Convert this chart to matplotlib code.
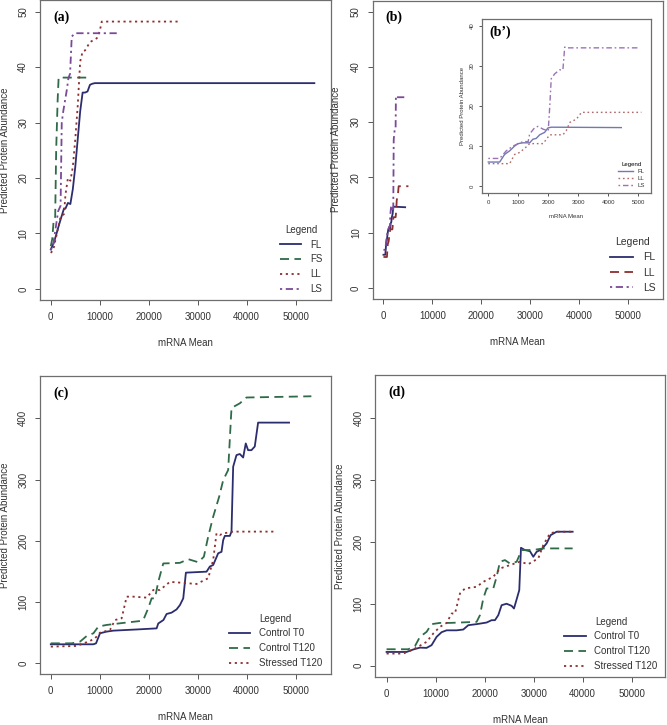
import matplotlib
matplotlib.use("Agg")
import matplotlib.pyplot as plt

plt.rcParams['font.family'] = ['Liberation Sans', 'DejaVu Sans']

# ---------------- data ----------------
# panel (a)
a_FL_x = [0, 700, 1500, 2000, 2700, 3000, 3500, 4000, 4500, 5000, 5500, 6000, 6500, 7000, 7500, 8000, 8500, 9000, 53800]
a_FL_y = [7.1, 8.5, 11, 12.5, 14.5, 14.5, 15.5, 15.3, 18, 22, 27, 32, 35.4, 35.4, 35.6, 36.8, 37, 37.1, 37.1]
a_FS_x = [0, 300, 600, 900, 1100, 1400, 1600, 7400]
a_FS_y = [7.7, 9, 12.5, 13, 25, 34, 38.1, 38.1]
a_LL_x = [0, 500, 1000, 1500, 2000, 2700, 3000, 3500, 4000, 4500, 5000, 5500, 6000, 6500, 7000, 8000, 9400, 10000, 10400, 26400]
a_LL_y = [6.5, 7, 9, 11, 13, 13.5, 17, 20, 19.5, 22, 27, 33, 41, 42.8, 43, 44.5, 45.2, 46.5, 48.2, 48.2]
a_LS_x = [0, 500, 1000, 1500, 2000, 2240, 2580, 3260, 3600, 3940, 4280, 4960, 13800]
a_LS_y = [7, 8, 11, 14, 15, 30, 32.2, 35.8, 38, 38.8, 45.5, 46.1, 46.1]

# panel (b) / (b')
b_FL_x = [0, 380, 545, 713, 880, 990, 1160, 1380, 1490, 1600, 1715, 1880, 1990, 2100, 4440]
b_FL_y = [6.0, 6.0, 7.9, 8.8, 10, 10.6, 10.8, 10.8, 11.7, 11.9, 12.8, 13.4, 14.5, 14.7, 14.6]
b_LL_x = [0, 713, 880, 1050, 1270, 1380, 1830, 1940, 2050, 2490, 2600, 2720, 2940, 3110, 5110]
b_LL_y = [5.6, 5.6, 7.9, 8.4, 9.8, 10.6, 10.6, 11.7, 12.8, 12.8, 13.8, 15.9, 16.7, 18.4, 18.4]
b_LS_x = [0, 380, 600, 825, 1160, 1330, 1380, 1550, 1660, 1830, 2000, 2050, 2100, 2215, 2380, 2490, 2550, 2600, 5000]
b_LS_y = [6.9, 6.9, 8.8, 10, 11.1, 11.1, 13, 14.6, 14.9, 14.2, 13.8, 19.7, 26.8, 28, 29, 29, 34.7, 34.5, 34.5]

# panel (c)
c_T0_x = [0, 8700, 9240, 10050, 11400, 12770, 18200, 21600, 21940, 23000, 23640, 24660, 25680, 26360, 27040, 27580,
          31800, 32470, 33150, 34170, 34850, 35190, 35530, 36550, 36890, 37230, 37910, 38590, 39270, 39800, 40280,
          40960, 41640, 42320, 48640]
c_T0_y = [31, 31, 32.6, 49, 51.7, 53.3, 55.5, 57, 65, 70.7, 80.5, 82.7, 88, 95, 106, 148,
          149.6, 158, 160.5, 179.6, 182, 201, 208, 208, 215, 321, 340, 341.7, 336, 359, 348,
          348, 354, 393, 393]
c_C120_x = [0, 4280, 5980, 7340, 8700, 9720, 11400, 14130, 18200, 18880, 19900, 20580, 21260, 21940, 22960, 26360,
            28060, 30100, 31250, 32130, 33150, 34370, 35190, 36210, 36890, 38590, 39940, 53190]
c_C120_y = [32.6, 32.6, 35.4, 44.6, 49, 60, 62.6, 65.3, 69, 70.7, 90, 106, 106, 133, 163, 164,
            170, 165, 174, 206.8, 239.4, 272, 299, 315.6, 417, 424.5, 434, 436]
c_S120_x = [0, 5300, 8000, 9030, 10050, 12090, 13110, 14470, 15490, 16850, 19560, 20920, 22280, 24320, 26360,
            29750, 32130, 33150, 33830, 34510, 35190, 37230, 46060]
c_S120_y = [27.2, 28.3, 36.5, 40.8, 50, 54.4, 70.7, 73.5, 108.8, 108.8, 107.2, 119.7, 119.7, 133, 131.7,
            129.5, 138.8, 168.7, 212.2, 209.5, 212, 215, 215]

# panel (d)
d_T0_x = [0, 4080, 5440, 6800, 8160, 9180, 10200, 11230, 12250, 14290, 15650, 16670, 18370, 20410, 21430, 22110,
          22790, 23470, 24490, 25510, 25990, 26530, 27070, 27420, 28230, 29250, 29930, 30610, 31630, 32650, 33470,
          34690, 37960]
d_T0_y = [22, 22, 26, 29, 28.6, 33, 46.4, 54, 57, 57, 58.3, 65.3, 67, 69.6, 73.4, 73.4,
          81.5, 97.7, 100, 96.6, 92.3, 107, 122, 190.5, 186.8, 185, 176, 184, 188, 197.6, 211,
          216.5, 216.5]
d_C120_x = [0, 4420, 5780, 6800, 8160, 9180, 10880, 12930, 18370, 19050, 19730, 20410, 21770, 22450, 23130, 24150,
            25170, 26530, 27550, 28910, 30610, 31970, 37960]
d_C120_y = [26.4, 26.4, 31.3, 46.4, 54.5, 67, 69, 69, 70.7, 81.5, 108.5, 124.7, 124.7, 143.6, 167.9, 170.6,
            165, 167.9, 186.8, 186.8, 187.8, 189.5, 189.5]
d_S120_x = [0, 3400, 5440, 8160, 9520, 10880, 12250, 13270, 13950, 14970, 15990, 18370, 19730, 21770, 23130, 25170,
            27210, 28910, 30950, 31970, 33330, 34690, 37960]
d_S120_y = [19.4, 19.4, 26, 38.3, 51.8, 62.6, 69, 84.2, 84.2, 116.6, 124.7, 127.4, 135.5, 143.6, 157, 162.5,
            168, 164, 173.3, 195, 213.8, 216.5, 216.5]

# ---------------- styles ----------------
NAVY = '#2b2d6e'
GREEN = '#2f6b48'
RED = '#8e2f2f'
PURPLE = '#7a4a98'
SOLID = '-'
DASH = (0, (5, 3))
DOT = (0, (1.2, 2))
DOTDASH = (0, (1.2, 2, 4, 2))

W, H = 667, 725
fig = plt.figure(figsize=(W / 100, H / 100), dpi=100)


def px_axes(l, t, r, b):
    ax = fig.add_axes([l / W, 1 - b / H, (r - l) / W, (b - t) / H])
    ax._px = (l, r)
    return ax


def style(ax, ylab_right, fs=7, tl=3.5, pad=5, lp=12):
    for s in ax.spines.values():
        s.set_color('#6e6e6e')
        s.set_linewidth(0.9)
    ax.tick_params(direction='out', length=tl, width=0.7, color='#555555',
                   labelsize=fs, labelcolor='#333333', pad=pad)
    for lab in ax.get_yticklabels():
        lab.set_rotation(90)
        lab.set_va('center')
    ax.set_xlabel('mRNA Mean', fontsize=fs, color='#333333', labelpad=lp)
    ax.set_ylabel('Predicted Protein Abundance', fontsize=fs, color='#333333')
    l, r = ax._px
    ax.yaxis.set_label_coords((ylab_right - l) / (r - l), 0.5)


def panel_tag(ax, txt, fs=10):
    ax.text(0.045, 0.965, txt, transform=ax.transAxes, ha='left', va='top',
            fontsize=fs, fontweight='bold', family='Liberation Serif')


def legend(ax, fs=6.5, **kw):
    lg = ax.legend(title='Legend', frameon=False, fontsize=fs, title_fontsize=fs,
                   handlelength=2.2, handletextpad=0.9, labelspacing=0.5,
                   borderaxespad=0.2, loc='lower right', **kw)
    lg._legend_box.align = 'center'
    for t in lg.get_texts():
        t.set_color('#333333')
    lg.get_title().set_color('#333333')
    return lg


LW = 1.3
XT = [0, 10000, 20000, 30000, 40000, 50000]

# (a)
ax = px_axes(40, 0.5, 331, 300)
ax.plot(a_FL_x, a_FL_y, color=NAVY, ls=SOLID, lw=LW, label='FL')
ax.plot(a_FS_x, a_FS_y, color=GREEN, ls=DASH, lw=LW, label='FS')
ax.plot(a_LL_x, a_LL_y, color=RED, ls=DOT, lw=LW, label='LL')
ax.plot(a_LS_x, a_LS_y, color=PURPLE, ls=DOTDASH, lw=LW, label='LS')
ax.set_xlim(-2200, 57200)
ax.set_ylim(-2, 52)
ax.set_xticks(XT)
ax.set_yticks([0, 10, 20, 30, 40, 50])
style(ax, 10)
panel_tag(ax, '(a)')
legend(ax, fs=7, bbox_to_anchor=(0.99, 0.0))

# (b)
ax = px_axes(372.7, 0.5, 663, 299)
ax.plot(b_FL_x, b_FL_y, color=NAVY, ls=SOLID, lw=LW, label='FL')
ax.plot(b_LL_x, b_LL_y, color=RED, ls=DASH, lw=LW, label='LL')
ax.plot(b_LS_x, b_LS_y, color=PURPLE, ls=DOTDASH, lw=LW, label='LS')
ax.set_xlim(-2200, 57200)
ax.set_ylim(-2, 52)
ax.set_xticks(XT)
ax.set_yticks([0, 10, 20, 30, 40, 50])
style(ax, 341)
panel_tag(ax, '(b)')
legend(ax, fs=7.5, bbox_to_anchor=(0.995, 0.0))

# (b') inset
ax = px_axes(481.7, 19, 650.7, 193.3)
ax.plot(b_FL_x, b_FL_y, color='#7378b0', ls=SOLID, lw=1.0, label='FL')
ax.plot(b_LL_x, b_LL_y, color='#b06a6a', ls=DOT, lw=1.0, label='LL')
ax.plot(b_LS_x, b_LS_y, color='#9a72b5', ls=DOTDASH, lw=1.0, label='LS')
ax.set_xlim(-220, 5420)
ax.set_ylim(-1.8, 41.7)
ax.set_xticks([0, 1000, 2000, 3000, 4000, 5000])
ax.set_yticks([0, 10, 20, 30, 40])
style(ax, 465, fs=4.3, tl=2, pad=3, lp=6)
panel_tag(ax, '(b\u2019)', fs=10)
lg = ax.legend(title='Legend', frameon=False, fontsize=4.3, title_fontsize=4.3,
               handlelength=2.5, labelspacing=0.3, loc='lower right', bbox_to_anchor=(1.0, 0.0))
lg._legend_box.align = 'center'
for t in lg.get_texts():
    t.set_color('#333333')

# (c)
ax = px_axes(40, 375.7, 331, 674)
ax.plot(c_T0_x, c_T0_y, color=NAVY, ls=SOLID, lw=LW, label='Control T0')
ax.plot(c_C120_x, c_C120_y, color=GREEN, ls=DASH, lw=LW, label='Control T120')
ax.plot(c_S120_x, c_S120_y, color=RED, ls=DOT, lw=LW, label='Stressed T120')
ax.set_xlim(-2200, 57200)
ax.set_ylim(-17.5, 469.6)
ax.set_xticks(XT)
ax.set_yticks([0, 100, 200, 300, 400])
style(ax, 10)
panel_tag(ax, '(c)')
legend(ax, fs=7, bbox_to_anchor=(0.99, 0.0))

# (d)
ax = px_axes(375.3, 375, 665, 677)
ax.plot(d_T0_x, d_T0_y, color=NAVY, ls=SOLID, lw=LW, label='Control T0')
ax.plot(d_C120_x, d_C120_y, color=GREEN, ls=DASH, lw=LW, label='Control T120')
ax.plot(d_S120_x, d_S120_y, color=RED, ls=DOT, lw=LW, label='Stressed T120')
ax.set_xlim(-2300, 56800)
ax.set_ylim(-18.5, 470)
ax.set_xticks(XT)
ax.set_yticks([0, 100, 200, 300, 400])
style(ax, 345)
panel_tag(ax, '(d)')
legend(ax, fs=7, bbox_to_anchor=(0.995, 0.0))

fig.savefig('out.png', dpi=100)
